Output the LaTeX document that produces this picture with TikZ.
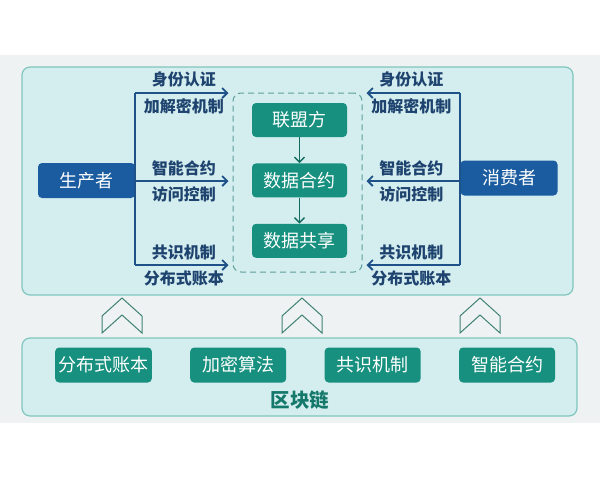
\documentclass[tikz,border=0pt]{standalone}
\usepackage{fontspec}
\setmainfont{Noto Sans CJK SC}
\usetikzlibrary{positioning, arrows, arrows.meta, shapes, calc}

\definecolor{photobg}{HTML}{EEF2F2}
\definecolor{panelfill}{HTML}{D4EEEF}
\definecolor{paneledge}{HTML}{80C6BF}
\definecolor{roleblue}{HTML}{1A5C9F}
\definecolor{coreteal}{HTML}{17907F}
\definecolor{labelnavy}{HTML}{1E436F}
\definecolor{flowblue}{HTML}{1E5288}
\definecolor{chevline}{HTML}{3F8275}
\definecolor{chaintext}{HTML}{14786A}
\definecolor{dashteal}{HTML}{5E9E9B}

\begin{document}
\begin{tikzpicture}[
    x=1pt, y=-1pt,
    >={Straight Barb[length=5pt, width=10pt]},
    flow/.style={->, draw=flowblue, line width=1.8pt, shorten >=4pt},
    trunk/.style={draw=flowblue, line width=1.8pt},
    inner/.style={->, draw=coreteal!75!black, line width=1.4pt},
    role/.style={rectangle, rounded corners=4pt, fill=roleblue, text=white, minimum width=97pt, minimum height=35pt, font=\fontsize{18}{20}\selectfont},
    core/.style={rectangle, rounded corners=4pt, fill=coreteal, text=white, minimum width=95pt, minimum height=34pt, font=\fontsize{18}{20}\selectfont},
    tag/.style={text=labelnavy, font=\fontsize{16}{18}\selectfont\bfseries, inner sep=4.5pt},
    panel/.style={draw=paneledge, fill=panelfill, line width=1.2pt, rounded corners=8pt},
    chev/.style={draw=chevline, fill=photobg, line width=1pt, line join=miter}
  ]

  % --- CANVAS ---
  \useasboundingbox (0,0) rectangle (600,480);
  \fill[white] (0,0) rectangle (600,480);
  \fill[photobg] (0,55) rectangle (600,423);

  % --- PANELS ---
  \draw[panel] (22,67) rectangle (573,295);
  \draw[panel] (22,338) rectangle (577,416);

  % --- ROLES ---
  \node[role] (producer) at (86.5,180.5) {生产者};
  \node[role] (consumer) at (509,178) {消费者};

  % --- ALLIANCE CORE ---
  \node[draw=dashteal, dashed, dash pattern=on 6pt off 4pt, line width=1pt, rounded corners=8pt,
        minimum width=129pt, minimum height=179pt] (alliance) at (297.5,182.5) {};
  \node[core] (union) at (299.5,120) {联盟方};
  \node[core, below=26pt of union] (contract) {数据合约};
  \node[core, below=26pt of contract] (share) {数据共享};

  \draw[inner] (union) -- (contract);
  \draw[inner] (contract) -- (share);

  % --- FLOWS ---
  \coordinate (top) at (0,93);
  \coordinate (mid) at (0,181);
  \coordinate (bot) at (0,265);

  % producer side
  \draw[trunk] (producer.east |- top) -- (producer.east |- bot);
  \draw[flow] (producer.east |- top) -- node[tag, above] {身份认证} node[tag, below] {加解密机制} (alliance.west |- top);
  \draw[flow] (producer.east |- mid) -- node[tag, above] {智能合约} node[tag, below] {访问控制} (alliance.west |- mid);
  \draw[flow] (producer.east |- bot) -- node[tag, above] {共识机制} node[tag, below] {分布式账本} (alliance.west |- bot);

  % consumer side
  \draw[trunk] (consumer.west |- top) -- (consumer.west |- bot);
  \draw[flow] (consumer.west |- top) -- node[tag, above] {身份认证} node[tag, below] {加解密机制} (alliance.east |- top);
  \draw[flow] (consumer.west |- mid) -- node[tag, above] {智能合约} node[tag, below] {访问控制} (alliance.east |- mid);
  \draw[flow] (consumer.west |- bot) -- node[tag, above] {共识机制} node[tag, below] {分布式账本} (alliance.east |- bot);

  % --- CHEVRONS ---
  \foreach \cx in {122,302,480} {
    \draw[chev] (\cx-20,333) -- ++(0,-17) -- ++(20,-18) -- ++(20,18) -- ++(0,17) -- ++(-20,-18) -- cycle;
  }

  % --- BLOCKCHAIN ---
  \node[core, minimum width=96pt, minimum height=35pt] (ledger) at (103.5,365) {分布式账本};
  \node[core, minimum width=96pt, minimum height=35pt, right=38pt of ledger] (crypto) {加密算法};
  \node[core, minimum width=96pt, minimum height=35pt, right=38pt of crypto] (consensus) {共识机制};
  \node[core, minimum width=96pt, minimum height=35pt, right=38pt of consensus] (smart) {智能合约};

  \node[text=chaintext, font=\fontsize{19.5}{22}\selectfont\bfseries] (chain) at (300,400) {区块链};

\end{tikzpicture}
\end{document}
